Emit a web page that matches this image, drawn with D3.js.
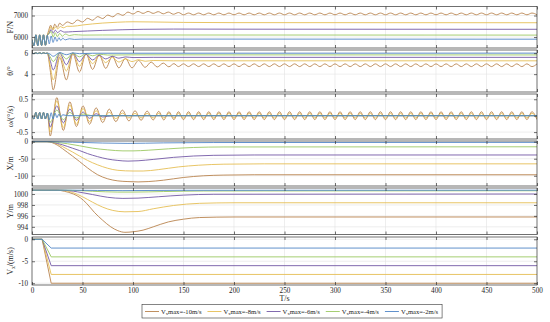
<!DOCTYPE html>
<html><head><meta charset="utf-8">
<script src="https://cdn.jsdelivr.net/npm/d3@7"></script>
<style>body{margin:0;background:#fff}svg{display:block}</style>
</head><body>
<svg id="c" width="550" height="322"></svg>
<script>
// ---------------- data ----------------
const seriesNames = ["-10m/s","-8m/s","-6m/s","-4m/s","-2m/s"];
const vxMax = [-10,-8,-6,-4,-2];
const tTicks = [0,50,100,150,200,250,300,350,400,450,500];
const fTicks = [6000,7000];
const thTicks = [4,6];
const wTicks = [-0.5,0,0.5];
const xPosTicks = [-100,-50,0];
const yPosTicks = [994,996,998,1000];
const vTicks = [-10,-5,0];

// common start (all cases identical before the manoeuvre)
const tEarly = [0,1.9,3.8,5.7,7.6,9.5,11.4,13.3,15.2];
const fEarly = [5880,5600,6100,5600,6100,5610,6100,5620,6080];
const thEarly = [6.0,5.96,6.03,5.96,6.03,5.96,6.03,5.97,6.0];
const wEarly = [0,-0.1,0.1,-0.1,0.1,-0.1,0.1,-0.1,0.08];

// F/N
const fB = [[16.5,6300],[18.5,6550],[20.5,6350],[22.5,6600],[25,6450],[27.5,6650],[30,6540],[35,6700],[40,6620],[45,6790],[50,6700],[55,6870],[60,6780],[65,6950],[70,6860],[75,7020],[80,6940],[85,7090],[90,7010],[95,7160],[100,7070],[105,7190],[110,7100],[115,7190],[120,7100],[125,7180],[130,7080],[135,7160],[140,7060],[145,7140]];
const fBTail = [7035,7115,7035,7115,7035,7115,7035,7115,7035,7115,
 7035,7115,7035,7115,7035,7115,7035,7115,7035,7115,
 7035,7115,7035,7115,7035,7115,7035,7115,7035,7115,
 7035,7115,7035,7115,7035,7115,7035,7115,7035,7115,
 7035,7115,7035,7115,7035,7115,7035,7115,7035,7115,
 7035,7115,7035,7115,7035,7115,7035,7115,7035,7115,
 7035,7115,7035,7115,7035,7115,7035,7115,7035,7115,7035];
const fG = [[17,6250],[19,6480],[21,6330],[23,6470],[25.5,6380],[28,6490],[31,6430],[35,6500],[40,6500],[50,6560],[60,6610],[70,6650],[85,6690],[100,6710],[120,6700],[150,6680],[200,6670],[500,6665]];
const fP = [[17,6180],[19,6350],[21,6180],[23,6320],[25.5,6200],[28,6300],[32,6230],[40,6250],[55,6280],[70,6310],[90,6340],[110,6360],[140,6370],[200,6365],[500,6360]];
const fGr = [[17,6150],[19,6260],[21,6000],[23,6200],[25,6020],[27.5,6170],[30,6040],[33,6140],[37,6070],[42,6110],[50,6090],[70,6095],[500,6090]];
const fBl = [[17.1,5680],[19,6050],[20.9,5750],[22.8,6000],[24.7,5800],[26.6,5970],[28.5,5840],[30.4,5940],[33,5870],[37,5920],[42,5890],[50,5905],[500,5900]];

// theta/deg
const thB = [[18,4.4],[21,2.5],[27.5,5.6],[34,3.45],[40.5,5.95],[47,4.2],[53.5,5.95],[60,4.45],[66.5,5.85],[73,4.55],[79.5,5.7],[86,4.6],[92.5,5.5],[99,4.6],[105.5,5.3],[112,4.65],[118,5.15],[124,4.68],[130,5.05],[135.5,4.7],[140.5,5.0],[145,4.72]];
const thBTail = [4.98,4.72,4.98,4.72,4.98,4.72,4.98,4.72,4.98,4.72,
 4.98,4.72,4.98,4.72,4.98,4.72,4.98,4.72,4.98,4.72,
 4.98,4.72,4.98,4.72,4.98,4.72,4.98,4.72,4.98,4.72,
 4.98,4.72,4.98,4.72,4.98,4.72,4.98,4.72,4.98,4.72,
 4.98,4.72,4.98,4.72,4.98,4.72,4.98,4.72,4.98,4.72,
 4.98,4.72,4.98,4.72,4.98,4.72,4.98,4.72,4.98,4.72,
 4.98,4.72,4.98,4.72,4.98,4.72,4.98,4.72,4.98,4.72,4.98];
const thG = [[18,4.8],[21,3.45],[27.5,5.8],[34,4.3],[40.5,6.0],[47,4.75],[53.5,5.9],[60,5.0],[66.5,5.75],[73,5.1],[79.5,5.6],[86,5.15],[92.5,5.45],[99,5.2],[105.5,5.37],[112,5.23],[120,5.3],[140,5.27],[500,5.27]];
const thP = [[18,5.3],[21,4.4],[27.5,6.0],[34,4.9],[40.5,6.02],[47,5.2],[53.5,5.9],[60,5.35],[66.5,5.8],[73,5.45],[79.5,5.7],[86,5.52],[92.5,5.64],[100,5.58],[120,5.6],[500,5.6]];
const thGr = [[18,5.65],[21,5.2],[27.5,6.05],[34,5.45],[40.5,6.0],[47,5.65],[53.5,5.95],[60,5.75],[66.5,5.9],[75,5.82],[100,5.84],[500,5.83]];
const thBl = [[18,5.9],[21,5.7],[27.5,6.05],[34,5.85],[40.5,6.02],[47,5.95],[60,5.99],[500,6.0]];

// omega deg/s
const wB = [[18,-0.62],[24.5,0.55],[31,-0.45],[37.5,0.42],[44,-0.33],[50.5,0.3],[57,-0.26],[63.5,0.24],[70,-0.21],[76.5,0.2],[83,-0.18],[89.5,0.17],[96,-0.16],[102,0.15],[108,-0.14],[114,0.14],[120,-0.13],[125.5,0.13],[130.5,-0.13],[135.5,0.12],[140.5,-0.12],[145,0.12]];
const wBTail = [-0.12,0.12,-0.12,0.12,-0.12,0.12,-0.12,0.12,-0.12,0.12,
 -0.12,0.12,-0.12,0.12,-0.12,0.12,-0.12,0.12,-0.12,0.12,
 -0.12,0.12,-0.12,0.12,-0.12,0.12,-0.12,0.12,-0.12,0.12,
 -0.12,0.12,-0.12,0.12,-0.12,0.12,-0.12,0.12,-0.12,0.12,
 -0.12,0.12,-0.12,0.12,-0.12,0.12,-0.12,0.12,-0.12,0.12,
 -0.12,0.12,-0.12,0.12,-0.12,0.12,-0.12,0.12,-0.12,0.12,
 -0.12,0.12,-0.12,0.12,-0.12,0.12,-0.12,0.12,-0.12,0.12,-0.12];
const wG = [[18,-0.5],[24.5,0.45],[31,-0.36],[37.5,0.33],[44,-0.26],[50.5,0.22],[57,-0.18],[63.5,0.15],[70,-0.12],[76.5,0.1],[83,-0.09],[89.5,0.08],[96,-0.07],[102,0.07],[108,-0.07],[114,0.07],[120,-0.07],[125.5,0.07],[130.5,-0.07],[135.5,0.07],[140.5,-0.07],[145,0.07]];
const wGTail = [-0.07,0.07,-0.07,0.07,-0.07,0.07,-0.07,0.07,-0.07,0.07,
 -0.07,0.07,-0.07,0.07,-0.07,0.07,-0.07,0.07,-0.07,0.07,
 -0.07,0.07,-0.07,0.07,-0.07,0.07,-0.07,0.07,-0.07,0.07,
 -0.07,0.07,-0.07,0.07,-0.07,0.07,-0.07,0.07,-0.07,0.07,
 -0.07,0.07,-0.07,0.07,-0.07,0.07,-0.07,0.07,-0.07,0.07,
 -0.07,0.07,-0.07,0.07,-0.07,0.07,-0.07,0.07,-0.07,0.07,
 -0.07,0.07,-0.07,0.07,-0.07,0.07,-0.07,0.07,-0.07,0.07,-0.07];
const wP = [[18,-0.35],[24.5,0.3],[31,-0.22],[37.5,0.2],[44,-0.14],[50.5,0.11],[57,-0.08],[63.5,0.06],[70,-0.04],[80,0],[500,0]];
const wGr = [[18,-0.2],[24.5,0.17],[31,-0.12],[37.5,0.1],[44,-0.07],[50.5,0.05],[60,0],[500,0]];
const wBl = [[17.1,-0.12],[19,0.09],[20.9,-0.1],[22.8,0.08],[24.7,-0.06],[26.6,0.05],[28.5,-0.04],[30.4,0.03],[35,0],[500,0]];

// X/m
const xB = [[0,0],[15,0],[20,-3],[25,-10],[30,-20],[35,-31],[40,-42],[47,-58],[55,-77],[65,-97],[75,-109],[85,-115],[95,-117],[105,-118],[115,-117],[130,-113],[150,-105],[170,-100],[190,-98],[220,-97],[500,-97]];
const xG = [[0,0],[15,0],[20,-2],[25,-7],[30,-14],[35,-22],[40,-30],[47,-42],[55,-55],[65,-68],[75,-78],[85,-84],[100,-86],[110,-86],[125,-82],[145,-74],[165,-69],[190,-66],[230,-65],[500,-65]];
const xP = [[0,0],[15,0],[20,-1.5],[25,-5],[30,-9],[40,-19],[47,-26],[55,-35],[65,-44],[75,-51],[85,-55],[95,-57],[105,-56],[120,-52],[140,-46],[160,-42],[180,-40],[220,-39],[500,-39]];
const xGr = [[0,0],[15,0],[25,-2],[35,-6],[47,-12],[60,-19],[75,-24],[90,-27],[100,-27],[115,-25],[135,-21],[160,-17],[190,-15.5],[500,-15]];
const xBl = [[0,0],[15,0],[40,-1.5],[70,-4],[95,-5],[130,-3.5],[180,-2.5],[500,-2]];

// Y/m
const yB = [[0,1000.7],[25,1000.7],[32,1000.5],[41,1000.0],[48,999.3],[54,998.3],[62,996.6],[70,995.2],[78,994.0],[85,993.3],[92,993.0],[100,993.1],[110,993.4],[120,994.0],[135,994.9],[150,995.4],[166,995.7],[200,995.8],[500,995.8]];
const yG = [[0,1000.7],[28,1000.7],[40,1000.3],[50,999.5],[60,998.5],[70,997.6],[80,997.0],[92,996.75],[105,996.8],[120,997.3],[140,997.9],[166,998.3],[200,998.4],[500,998.4]];
const yP = [[0,1000.7],[30,1000.7],[45,1000.4],[60,999.9],[75,999.4],[90,999.2],[105,999.25],[125,999.5],[150,999.8],[180,999.95],[500,1000.0]];
const yGr = [[0,1000.7],[35,1000.7],[60,1000.5],[85,1000.35],[100,1000.35],[130,1000.45],[170,1000.55],[500,1000.6]];
const yBl = [[0,1000.72],[40,1000.7],[90,1000.62],[150,1000.68],[500,1000.7]];

// Vx m/s : hold 0, ramp, hold at Vxmax
const vRampStart = 10, vRampEnd = 19;

// ---------------- drawing ----------------
const colors = ["#b9834e","#e5be55","#7459a6","#9cc862","#4f84c6"];
const serif = "'Liberation Serif','Times New Roman',serif";
const svg = d3.select("#c");
const xL = 32, xR = 537;
const x = d3.scaleLinear().domain([0,500]).range([xL,xR]);

function withEarly(ev, pairs, tail){
  const pts = tEarly.map((t,i)=>[t, ev[i]]).concat(pairs);
  if (tail) tail.forEach((v,i)=>pts.push([150+5*i, v]));
  return pts;
}
const vx = vxMax.map(v => [[0,0],[vRampStart,0],[vRampEnd,v],[500,v]]);

const panels = [
 {top:6.5, bot:48, dom:[5490,7420], ticks:fTicks, label:"F/N",
  data:[withEarly(fEarly,fB,fBTail),withEarly(fEarly,fG),withEarly(fEarly,fP),withEarly(fEarly,fGr),withEarly(fEarly,fBl)]},
 {top:50, bot:92, dom:[2.3,6.3], ticks:thTicks, label:"θ/°",
  data:[withEarly(thEarly,thB,thBTail),withEarly(thEarly,thG),withEarly(thEarly,thP),withEarly(thEarly,thGr),withEarly(thEarly,thBl)]},
 {top:94, bot:139, dom:[-0.71,0.66], ticks:wTicks, label:"ω/(°/s)",
  data:[withEarly(wEarly,wB,wBTail),withEarly(wEarly,wG,wGTail),withEarly(wEarly,wP),withEarly(wEarly,wGr),withEarly(wEarly,wBl)]},
 {top:141, bot:186, dom:[-130,2], ticks:xPosTicks, label:"X/m", data:[xB,xG,xP,xGr,xBl]},
 {top:188, bot:234.5, dom:[992.6,1001.1], ticks:yPosTicks, label:"Y/m", data:[yB,yG,yP,yGr,yBl]},
 {top:237, bot:285, dom:[-10.4,0.52], ticks:vTicks, label:"VX", data:vx, linear:true}
];

const defs = svg.append("defs");
panels.forEach((p,pi)=>{
  const y = d3.scaleLinear().domain(p.dom).range([p.bot,p.top]);
  const g = svg.append("g");
  defs.append("clipPath").attr("id","cp"+pi).append("rect")
    .attr("x",xL).attr("y",p.top).attr("width",xR-xL).attr("height",p.bot-p.top);
  // grid
  const grid = g.append("g").attr("stroke","#e3e3e3").attr("stroke-width",0.6);
  tTicks.slice(1,-1).forEach(t=>grid.append("line").attr("x1",x(t)).attr("x2",x(t)).attr("y1",p.top).attr("y2",p.bot));
  p.ticks.forEach(v=>{ if (y(v)>p.top+1 && y(v)<p.bot-1) grid.append("line").attr("x1",xL).attr("x2",xR).attr("y1",y(v)).attr("y2",y(v)); });
  // series
  const line = d3.line().x(d=>x(d[0])).y(d=>y(d[1])).curve(p.linear?d3.curveLinear:d3.curveMonotoneX);
  const lg = g.append("g").attr("clip-path","url(#cp"+pi+")");
  p.data.forEach((s,i)=>lg.append("path").attr("d",line(s)).attr("fill","none")
     .attr("stroke",colors[i]).attr("stroke-width",0.9));
  // box
  g.append("rect").attr("x",xL).attr("y",p.top).attr("width",xR-xL).attr("height",p.bot-p.top)
    .attr("fill","none").attr("stroke","#333").attr("stroke-width",0.7);
  // axes
  const fmt = d=>String(d);
  const al = g.append("g").attr("transform",`translate(${xL},0)`)
    .call(d3.axisLeft(y).tickValues(p.ticks).tickSize(-3).tickPadding(4).tickFormat(fmt));
  const ar = g.append("g").attr("transform",`translate(${xR},0)`)
    .call(d3.axisRight(y).tickValues(p.ticks).tickSize(-3).tickFormat(""));
  const at = g.append("g").attr("transform",`translate(0,${p.top})`)
    .call(d3.axisTop(x).tickValues(tTicks).tickSize(-3).tickFormat(""));
  const ab = g.append("g").attr("transform",`translate(0,${p.bot})`)
    .call(d3.axisBottom(x).tickValues(tTicks).tickSize(-3).tickPadding(3).tickFormat(pi===5?fmt:""));
  [al,ar,at,ab].forEach(a=>{
    a.select(".domain").remove();
    a.selectAll("line").attr("stroke","#333").attr("stroke-width",0.7);
    a.selectAll("text").attr("font-family",serif).attr("font-size",7.2).attr("fill","#222");
  });
  // y label
  const cy = (p.top+p.bot)/2;
  const lab = svg.append("text").attr("transform",`translate(13,${cy}) rotate(-90)`)
    .attr("text-anchor","middle").attr("font-family",serif).attr("font-size",8).attr("fill","#222");
  if (p.label==="VX"){
    lab.append("tspan").text("V");
    lab.append("tspan").attr("font-size",5.5).attr("dy",2).text("x");
    lab.append("tspan").attr("dy",-2).text("/(m/s)");
  } else lab.text(p.label);
});

// x label
svg.append("text").attr("x",x(250)).attr("y",301).attr("text-anchor","middle")
  .attr("font-family",serif).attr("font-size",8).attr("fill","#222").text("T/s");

// legend
const leg = svg.append("g");
const lbox = leg.append("rect").attr("x",142).attr("y",304.5).attr("width",277).attr("height",13.5)
  .attr("fill","#fff").attr("stroke","#333").attr("stroke-width",0.6);
let lx = 145;
seriesNames.forEach((n,i)=>{
  leg.append("line").attr("x1",lx).attr("x2",lx+14).attr("y1",311.5).attr("y2",311.5)
    .attr("stroke",colors[i]).attr("stroke-width",0.9);
  const t = leg.append("text").attr("x",lx+16).attr("y",313.5).attr("font-family",serif)
    .attr("font-size",6.6).attr("fill","#222");
  t.append("tspan").text("V");
  t.append("tspan").attr("font-size",4.6).attr("dy",1.5).text("x");
  t.append("tspan").attr("dy",-1.5).text("max="+n);
  lx += 16 + t.node().getComputedTextLength() + 6;
});
lbox.attr("width", Math.max(277, lx - 142 - 2));
</script>
</body></html>
